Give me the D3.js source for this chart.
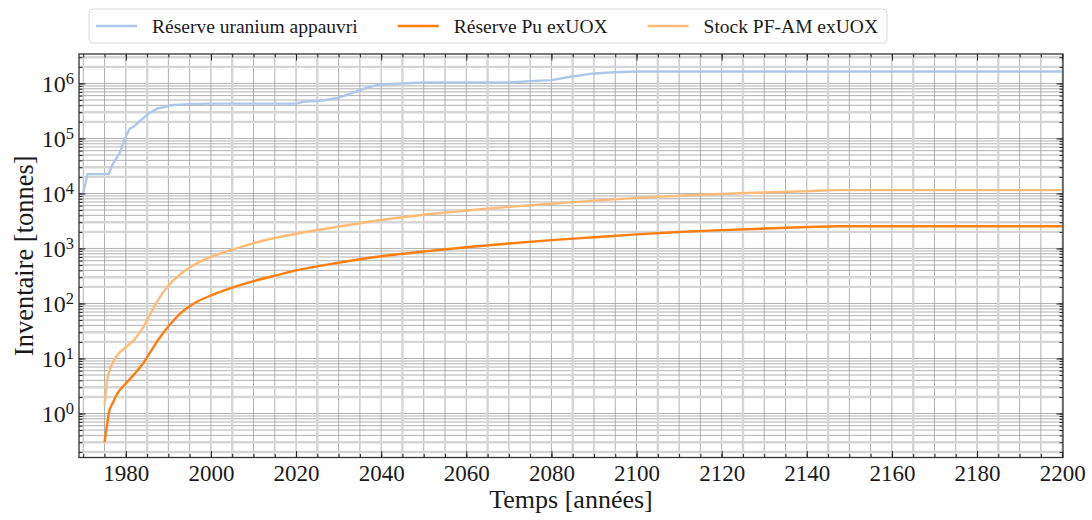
<!DOCTYPE html>
<html>
<head>
<meta charset="utf-8">
<script src="https://cdn.jsdelivr.net/npm/d3@7/dist/d3.min.js"></script>
<style>
  body { margin: 0; background: #ffffff; }
  svg { display: block; }
  text { font-family: "Liberation Serif", "Times New Roman", serif; fill: #1a1a1a; }
</style>
</head>
<body>
<svg id="chart" width="1092" height="520"></svg>
<script>
// ---- Inventory series (tonnes) ----
const seriesNames = ["Réserve uranium appauvri", "Réserve Pu exUOX", "Stock PF-AM exUOX"];
const seriesColors = ["#aec7e8", "#ff7f0e", "#ffbb78"];

const uraniumYears  = [1970, 1971, 1976, 1977, 1978.7, 1979.6, 1980.9, 1982, 1983.4, 1985.3, 1987.4, 1989, 1990.5, 1995, 2000, 2020, 2022, 2025, 2027, 2030, 2033, 2035, 2038, 2040, 2045, 2050, 2070, 2075, 2080, 2084.5, 2090, 2095, 2100, 2200];
const uraniumValues = [1.0e4, 2.25e4, 2.25e4, 3.5e4, 5.7e4, 9.3e4, 1.5e5, 1.67e5, 2.1e5, 2.8e5, 3.5e5, 3.7e5, 4.0e5, 4.2e5, 4.3e5, 4.3e5, 4.7e5, 4.8e5, 5.0e5, 5.5e5, 6.6e5, 7.6e5, 8.9e5, 9.6e5, 1.0e6, 1.04e6, 1.04e6, 1.1e6, 1.15e6, 1.32e6, 1.52e6, 1.6e6, 1.65e6, 1.65e6];

const fuelYears = [1975, 1975.5, 1976, 1977, 1978, 1980, 1982, 1984, 1986, 1988, 1990, 1993, 1996, 2000, 2005, 2010, 2015, 2020, 2030, 2040, 2050, 2060, 2070, 2080, 2090, 2100, 2110, 2120, 2130, 2140, 2147, 2200];
const puValues   = [0.30, 0.55, 1.0, 1.6, 2.3, 3.5, 5.2, 8.0, 14, 24, 38, 68, 100, 140, 195, 255, 320, 400, 550, 720, 880, 1050, 1230, 1420, 1600, 1800, 1990, 2150, 2300, 2450, 2530, 2530];
const pfamValues = [1.4, 3.5, 5.5, 8.5, 11.5, 16, 22, 36, 70, 130, 210, 350, 500, 700, 950, 1250, 1550, 1850, 2500, 3300, 4100, 4900, 5700, 6500, 7400, 8300, 9100, 9800, 10400, 11000, 11500, 11500];

// ---- Axis ticks ----
const xMajorTicks = [1980, 2000, 2020, 2040, 2060, 2080, 2100, 2120, 2140, 2160, 2180, 2200];
const xMinorStep = 5;
const yMajorExponents = [0, 1, 2, 3, 4, 5, 6];

const series = [
  { name: seriesNames[0], color: seriesColors[0], years: uraniumYears, values: uraniumValues, curve: d3.curveLinear },
  { name: seriesNames[1], color: seriesColors[1], years: fuelYears, values: puValues, curve: d3.curveMonotoneX },
  { name: seriesNames[2], color: seriesColors[2], years: fuelYears, values: pfamValues, curve: d3.curveMonotoneX }
];

const svg = d3.select("#chart");
const plot = { left: 79, right: 1063, top: 54, bottom: 457.5 };

const x = d3.scaleLinear().domain([1969, 2200.2]).range([plot.left, plot.right]);
const y = d3.scaleLog().domain([Math.pow(10, -0.80), Math.pow(10, 6.535)]).range([plot.bottom, plot.top]);

// Tick value sets
const [x0, x1] = x.domain();
const xMinorTicks = d3.range(Math.ceil(x0 / xMinorStep) * xMinorStep, x1 + 1e-9, xMinorStep);
const [y0, y1] = y.domain();
const yMinorTicks = [];
const yFaintTicks = [];
for (let e = -1; e <= 6; e++) {
  for (let k = 1; k <= 9; k++) {
    const v = k * Math.pow(10, e);
    if (v >= y0 && v <= y1) {
      yMinorTicks.push(v);
      if (k === 2 || k === 3) yFaintTicks.push(v);
    }
  }
}
const xFaintTicks = xMinorTicks.filter(v => (v - 1985) % 20 === 0);

// ---- Grid ----
const grid = svg.append("g").attr("class", "grid");
grid.selectAll("line.vmin").data(xMinorTicks).join("line")
  .attr("x1", d => x(d)).attr("x2", d => x(d))
  .attr("y1", plot.top).attr("y2", plot.bottom)
  .attr("stroke", "#a3a3a3").attr("stroke-width", 0.85);
grid.selectAll("line.hmin").data(yMinorTicks).join("line")
  .attr("x1", plot.left).attr("x2", plot.right)
  .attr("y1", d => y(d)).attr("y2", d => y(d))
  .attr("stroke", "#a3a3a3").attr("stroke-width", 0.85);
grid.append("g").selectAll("line").data(xFaintTicks).join("line")
  .attr("x1", d => x(d)).attr("x2", d => x(d))
  .attr("y1", plot.top).attr("y2", plot.bottom)
  .attr("stroke", "#d6d6d6").attr("stroke-width", 2.4);
grid.append("g").selectAll("line").data(yFaintTicks).join("line")
  .attr("x1", plot.left).attr("x2", plot.right)
  .attr("y1", d => y(d)).attr("y2", d => y(d))
  .attr("stroke", "#d6d6d6").attr("stroke-width", 2.4);

// ---- Series lines ----
svg.append("clipPath").attr("id", "plot-clip")
  .append("rect").attr("x", plot.left).attr("y", plot.top)
  .attr("width", plot.right - plot.left).attr("height", plot.bottom - plot.top);

const lines = svg.append("g").attr("clip-path", "url(#plot-clip)");
series.forEach(s => {
  const pts = s.years.map((yr, i) => [yr, s.values[i]]);
  const gen = d3.line().x(d => x(d[0])).y(d => y(d[1])).curve(s.curve);
  lines.append("path").datum(pts)
    .attr("d", gen)
    .attr("fill", "none")
    .attr("stroke", s.color)
    .attr("stroke-width", 2.4)
    .attr("stroke-linejoin", "round");
});

// ---- Axes (ticks pointing inward on all four sides) ----
function styleAxis(g) {
  g.select(".domain").remove();
  g.attr("font-family", null);
  g.selectAll(".tick line").attr("stroke", "#222").attr("stroke-width", 1);
}
const majorLen = 6.5, minorLen = 3.5;

svg.append("g").attr("transform", `translate(0,${plot.bottom})`)
  .call(d3.axisBottom(x).tickValues(xMinorTicks).tickSize(-minorLen).tickFormat(""))
  .call(styleAxis);
svg.append("g").attr("transform", `translate(0,${plot.top})`)
  .call(d3.axisTop(x).tickValues(xMinorTicks).tickSize(-minorLen).tickFormat(""))
  .call(styleAxis);
const xAxisG = svg.append("g").attr("transform", `translate(0,${plot.bottom})`)
  .call(d3.axisBottom(x).tickValues(xMajorTicks).tickSize(-majorLen).tickPadding(23).tickFormat(d3.format("d")))
  .call(styleAxis);
xAxisG.selectAll(".tick text").attr("font-size", 23).attr("dy", 0).attr("fill", "#1a1a1a");
svg.append("g").attr("transform", `translate(0,${plot.top})`)
  .call(d3.axisTop(x).tickValues(xMajorTicks).tickSize(-majorLen).tickFormat(""))
  .call(styleAxis);

svg.append("g").attr("transform", `translate(${plot.left},0)`)
  .call(d3.axisLeft(y).tickValues(yMinorTicks).tickSize(-minorLen).tickFormat(""))
  .call(styleAxis);
svg.append("g").attr("transform", `translate(${plot.right},0)`)
  .call(d3.axisRight(y).tickValues(yMinorTicks).tickSize(-minorLen).tickFormat(""))
  .call(styleAxis);
const yAxisG = svg.append("g").attr("transform", `translate(${plot.left},0)`)
  .call(d3.axisLeft(y).tickValues(yMajorExponents.map(e => Math.pow(10, e))).tickSize(-majorLen).tickPadding(5).tickFormat(""))
  .call(styleAxis);
yAxisG.selectAll(".tick").each(function (d) {
  const exp = Math.round(Math.log10(d));
  const t = d3.select(this).select("text")
    .attr("x", -5).attr("dy", "0.35em").attr("text-anchor", "end")
    .attr("font-size", 24).attr("fill", "#1a1a1a");
  t.text(null);
  t.append("tspan").text("10");
  t.append("tspan").attr("dy", "-0.48em").attr("font-size", 16.5).text(String(exp));
});
svg.append("g").attr("transform", `translate(${plot.right},0)`)
  .call(d3.axisRight(y).tickValues(yMajorExponents.map(e => Math.pow(10, e))).tickSize(-majorLen).tickFormat(""))
  .call(styleAxis);

// Frame
svg.append("rect")
  .attr("x", plot.left).attr("y", plot.top)
  .attr("width", plot.right - plot.left).attr("height", plot.bottom - plot.top)
  .attr("fill", "none").attr("stroke", "#333").attr("stroke-width", 1.3);

// ---- Axis titles ----
svg.append("text")
  .attr("x", (plot.left + plot.right) / 2).attr("y", 508)
  .attr("text-anchor", "middle").attr("font-size", 26)
  .text("Temps [années]");
svg.append("text")
  .attr("transform", `translate(33,${(plot.top + plot.bottom) / 2}) rotate(-90)`)
  .attr("text-anchor", "middle").attr("font-size", 26.5)
  .text("Inventaire [tonnes]");

// ---- Legend (single row, three columns) ----
const legend = svg.append("g");
const legendBox = legend.append("rect")
  .attr("x", 89).attr("y", 9).attr("height", 34).attr("rx", 4).attr("ry", 4)
  .attr("fill", "#ffffff").attr("fill-opacity", 0.85)
  .attr("stroke", "#d9d9d9").attr("stroke-width", 1);
let cursor = 96;
const handleLen = 41, handleGap = 15, colGap = 40, legendMid = 26;
series.forEach((s, i) => {
  legend.append("line")
    .attr("x1", cursor).attr("x2", cursor + handleLen)
    .attr("y1", legendMid).attr("y2", legendMid)
    .attr("stroke", s.color).attr("stroke-width", 2.4);
  const t = legend.append("text")
    .attr("x", cursor + handleLen + handleGap).attr("y", legendMid + 6.5)
    .attr("font-size", 19.5).text(s.name);
  const w = t.node().getComputedTextLength();
  cursor = cursor + handleLen + handleGap + w + (i < series.length - 1 ? colGap : 0);
});
legendBox.attr("width", cursor + 9 - 89);
</script>
</body>
</html>
